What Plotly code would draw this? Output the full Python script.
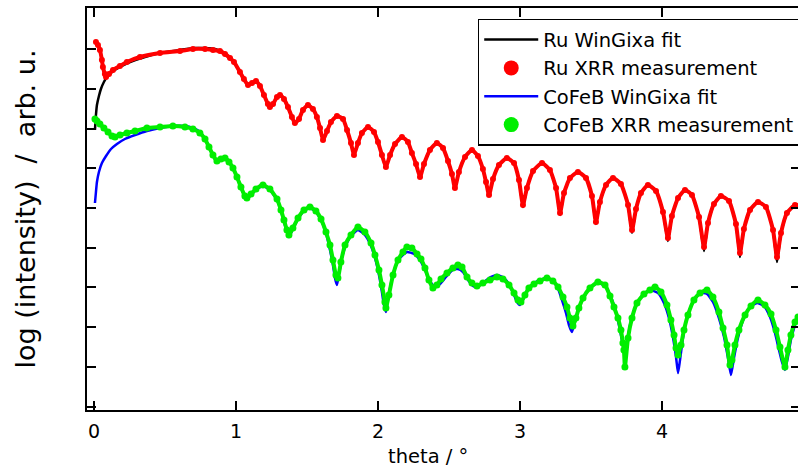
import plotly.graph_objects as go

# theta (deg) and log(intensity) in decades
ru_meas_theta = [0.014,0.028,0.042,0.056,0.063,0.077,0.085,0.106,0.134,0.183,0.232,0.324,0.465,0.606,0.697,0.782,0.838,0.887,0.923,0.958,0.986,1.028,1.056,1.085,1.113,1.141,1.169,1.197,1.225,1.239,1.261,1.289,1.310,1.338,1.366,1.394,1.415,1.444,1.472,1.507,1.542,1.570,1.592,1.613,1.641,1.669,1.711,1.754,1.782,1.810,1.831,1.859,1.887,1.930,1.972,2.000,2.028,2.056,2.085,2.120,2.169,2.211,2.239,2.268,2.296,2.324,2.366,2.415,2.458,2.493,2.521,2.542,2.570,2.613,2.662,2.704,2.739,2.761,2.782,2.810,2.852,2.908,2.958,2.993,3.021,3.049,3.092,3.155,3.211,3.254,3.282,3.310,3.352,3.408,3.465,3.507,3.535,3.563,3.606,3.655,3.711,3.761,3.789,3.817,3.852,3.901,3.958,4.007,4.042,4.070,4.113,4.162,4.211,4.261,4.296,4.324,4.366,4.415,4.472,4.521,4.549,4.577,4.620,4.676,4.732,4.782,4.810,4.838,4.880,4.937,4.958]
ru_meas_logI = [9.181,9.106,8.980,8.728,8.552,8.375,8.300,8.375,8.476,8.577,8.678,8.804,8.904,8.955,9.005,9.005,8.980,8.955,8.879,8.778,8.678,8.426,8.249,8.098,8.149,8.199,8.073,7.846,7.620,7.544,7.620,7.796,7.846,7.746,7.544,7.292,7.141,7.242,7.469,7.594,7.494,7.292,7.015,6.713,6.940,7.166,7.317,7.242,6.965,6.637,6.335,6.637,6.889,7.040,6.914,6.662,6.335,6.033,6.335,6.612,6.788,6.662,6.385,6.108,5.781,6.108,6.461,6.637,6.511,6.184,5.856,5.504,5.907,6.285,6.461,6.310,5.982,5.655,5.327,5.730,6.083,6.259,6.133,5.705,5.076,5.504,5.932,6.133,5.957,5.504,4.874,5.378,5.755,5.907,5.755,5.302,4.647,5.151,5.579,5.755,5.604,5.076,4.446,4.975,5.378,5.579,5.428,4.899,4.244,4.798,5.252,5.453,5.327,4.773,4.018,4.622,5.101,5.302,5.176,4.597,3.866,4.471,4.950,5.151,5.025,4.446,3.766,4.370,4.874,5.076,5.050]

ru_fit_theta = [0.007,0.014,0.021,0.035,0.049,0.070,0.092,0.127,0.183,0.254,0.359,0.465,0.606,0.711,0.782,0.852,0.887,0.923,0.958,0.986,1.028,1.056,1.085,1.113,1.141,1.169,1.197,1.225,1.239,1.261,1.289,1.310,1.338,1.366,1.394,1.415,1.444,1.472,1.507,1.542,1.570,1.592,1.613,1.641,1.669,1.711,1.754,1.782,1.810,1.831,1.859,1.887,1.930,1.972,2.000,2.028,2.056,2.085,2.120,2.169,2.211,2.239,2.268,2.296,2.324,2.366,2.415,2.458,2.493,2.521,2.542,2.570,2.613,2.662,2.704,2.739,2.761,2.782,2.810,2.852,2.908,2.958,2.993,3.021,3.049,3.092,3.155,3.211,3.254,3.282,3.310,3.352,3.408,3.465,3.507,3.535,3.563,3.606,3.655,3.711,3.761,3.789,3.817,3.852,3.901,3.958,4.007,4.042,4.070,4.113,4.162,4.211,4.261,4.296,4.324,4.366,4.415,4.472,4.521,4.549,4.577,4.620,4.676,4.732,4.782,4.810,4.838,4.880,4.937,4.958]
ru_fit_logI = [6.965,7.343,7.594,7.821,7.997,8.174,8.300,8.426,8.552,8.678,8.804,8.904,8.980,9.030,9.030,9.005,8.955,8.879,8.778,8.678,8.426,8.249,8.098,8.149,8.199,8.073,7.846,7.620,7.544,7.620,7.796,7.846,7.746,7.544,7.292,7.141,7.242,7.469,7.594,7.494,7.292,7.015,6.713,6.940,7.166,7.317,7.242,6.965,6.637,6.335,6.637,6.889,7.040,6.914,6.662,6.335,6.033,6.335,6.612,6.788,6.662,6.385,6.108,5.781,6.108,6.461,6.637,6.511,6.184,5.856,5.504,5.907,6.285,6.461,6.310,5.982,5.655,5.327,5.730,6.083,6.259,6.133,5.705,5.025,5.504,5.932,6.133,5.957,5.504,4.824,5.378,5.755,5.907,5.755,5.302,4.597,5.151,5.579,5.755,5.604,5.076,4.370,4.975,5.378,5.579,5.428,4.899,4.169,4.798,5.252,5.453,5.327,4.773,3.917,4.622,5.101,5.302,5.176,4.597,3.766,4.471,4.950,5.151,5.025,4.446,3.640,4.370,4.874,5.076,5.050]

cofeb_meas_theta = [0.007,0.021,0.042,0.070,0.099,0.127,0.148,0.183,0.232,0.289,0.373,0.465,0.556,0.641,0.697,0.746,0.782,0.810,0.838,0.866,0.894,0.923,0.951,0.979,1.007,1.035,1.063,1.077,1.106,1.141,1.190,1.239,1.289,1.317,1.338,1.359,1.373,1.401,1.437,1.479,1.521,1.563,1.599,1.634,1.662,1.683,1.704,1.718,1.739,1.768,1.810,1.859,1.908,1.951,1.979,2.007,2.028,2.049,2.056,2.077,2.106,2.141,2.176,2.204,2.239,2.275,2.303,2.331,2.359,2.387,2.415,2.444,2.486,2.528,2.563,2.592,2.627,2.662,2.697,2.739,2.789,2.838,2.880,2.923,2.958,2.986,3.007,3.035,3.063,3.099,3.141,3.190,3.232,3.268,3.303,3.331,3.352,3.373,3.394,3.415,3.444,3.493,3.549,3.599,3.634,3.662,3.690,3.711,3.725,3.732,3.739,3.761,3.789,3.824,3.873,3.915,3.951,3.993,4.035,4.063,4.085,4.099,4.113,4.134,4.155,4.183,4.225,4.268,4.317,4.359,4.401,4.430,4.458,4.479,4.493,4.514,4.542,4.585,4.627,4.676,4.725,4.768,4.803,4.831,4.866,4.887,4.908,4.937,4.958]
cofeb_meas_logI = [7.242,7.192,7.116,7.015,6.914,6.814,6.788,6.839,6.889,6.940,7.015,7.040,7.065,7.040,6.990,6.889,6.738,6.537,6.335,6.184,6.234,6.259,6.159,6.007,5.781,5.529,5.302,5.252,5.353,5.479,5.579,5.479,5.227,4.950,4.698,4.446,4.320,4.496,4.748,4.950,5.025,4.924,4.723,4.395,4.068,3.690,3.312,3.237,3.640,4.068,4.320,4.521,4.395,4.118,3.816,3.438,3.060,2.632,2.481,2.809,3.312,3.690,3.892,4.018,3.992,3.841,3.715,3.489,3.186,2.985,3.060,3.212,3.363,3.489,3.564,3.514,3.262,3.111,3.035,3.111,3.186,3.262,3.212,3.060,2.859,2.683,2.632,2.809,2.985,3.086,3.161,3.237,3.161,3.010,2.758,2.506,2.229,2.028,2.229,2.481,2.733,2.985,3.136,3.060,2.783,2.506,2.229,1.927,1.599,1.423,0.995,1.725,2.229,2.607,2.834,2.935,3.010,2.884,2.557,2.179,1.801,1.474,1.297,1.549,1.927,2.305,2.683,2.859,2.935,2.758,2.380,1.977,1.549,1.045,1.171,1.549,1.927,2.305,2.531,2.683,2.557,2.330,1.927,1.499,0.995,1.423,1.801,2.128,2.254]

cofeb_fit_theta = [0.007,0.014,0.021,0.035,0.056,0.085,0.120,0.162,0.218,0.289,0.373,0.465,0.556,0.641,0.697,0.746,0.782,0.810,0.838,0.866,0.894,0.923,0.951,0.979,1.007,1.035,1.063,1.077,1.106,1.141,1.190,1.239,1.289,1.317,1.338,1.359,1.373,1.401,1.437,1.479,1.521,1.563,1.599,1.634,1.662,1.683,1.697,1.711,1.725,1.746,1.775,1.810,1.859,1.908,1.951,1.979,2.007,2.028,2.042,2.056,2.070,2.092,2.120,2.155,2.204,2.254,2.296,2.331,2.366,2.401,2.437,2.479,2.528,2.563,2.599,2.634,2.669,2.697,2.732,2.782,2.838,2.887,2.930,2.958,2.979,3.000,3.021,3.049,3.092,3.141,3.190,3.232,3.268,3.296,3.324,3.345,3.366,3.387,3.415,3.458,3.500,3.549,3.599,3.641,3.676,3.704,3.725,3.739,3.754,3.775,3.810,3.859,3.915,3.972,4.014,4.049,4.077,4.099,4.113,4.127,4.148,4.176,4.218,4.268,4.317,4.359,4.401,4.437,4.465,4.486,4.507,4.535,4.577,4.620,4.669,4.718,4.761,4.796,4.824,4.845,4.866,4.887,4.908,4.937,4.958]
cofeb_fit_logI = [5.126,5.403,5.655,5.907,6.133,6.310,6.486,6.612,6.738,6.839,6.940,7.015,7.065,7.065,7.015,6.914,6.738,6.537,6.310,6.159,6.209,6.259,6.184,6.007,5.781,5.529,5.277,5.227,5.327,5.453,5.554,5.453,5.202,4.924,4.647,4.395,4.270,4.471,4.723,4.924,5.000,4.899,4.698,4.370,3.942,3.564,3.237,3.060,3.312,3.741,4.068,4.295,4.446,4.320,4.043,3.741,3.312,2.884,2.557,2.380,2.683,3.111,3.489,3.741,3.892,3.841,3.690,3.438,3.161,3.010,3.086,3.262,3.438,3.463,3.388,3.186,3.035,3.010,3.086,3.237,3.312,3.237,3.035,2.809,2.632,2.557,2.683,2.909,3.086,3.186,3.237,3.161,2.960,2.683,2.355,2.053,1.877,2.128,2.481,2.809,3.010,3.111,3.035,2.758,2.380,1.927,1.549,1.297,1.599,2.053,2.481,2.783,2.935,2.859,2.607,2.229,1.751,1.247,0.844,1.171,1.725,2.229,2.632,2.859,2.834,2.632,2.229,1.751,1.222,0.793,1.222,1.725,2.229,2.506,2.607,2.531,2.254,1.851,1.423,1.121,0.919,1.247,1.675,2.053,2.280]

x_tick_vals = [0, 1, 2, 3, 4]
x_tick_text = ["0", "1", "2", "3", "4"]
y_tick_vals = [0, 1, 2, 3, 4, 5, 6, 7, 8, 9]

legend_names = ["Ru WinGixa fit", "Ru XRR measurement", "CoFeB WinGixa fit", "CoFeB XRR measurement"]
x_title = "theta / °"
y_title = "log (intensity)\u00a0 /\u00a0 arb. u."

RED = "#ff0000"
GREEN = "#00ee00"
BLUE = "#0000ff"
BLACK = "#000000"
FONT = "DejaVu Sans"

fig = go.Figure()

# fits (under the measurements)
fig.add_trace(go.Scatter(x=ru_fit_theta, y=ru_fit_logI, mode="lines",
                         line=dict(color=BLACK, width=2.5, shape="spline", smoothing=0.5),
                         showlegend=False, hoverinfo="skip"))
fig.add_trace(go.Scatter(x=cofeb_fit_theta, y=cofeb_fit_logI, mode="lines",
                         line=dict(color=BLUE, width=2.5, shape="spline", smoothing=0.5),
                         showlegend=False, hoverinfo="skip"))
# measurements
fig.add_trace(go.Scatter(x=ru_meas_theta, y=ru_meas_logI, mode="lines+markers",
                         line=dict(color=RED, width=4, shape="spline", smoothing=0.5),
                         marker=dict(color=RED, size=6),
                         showlegend=False, hoverinfo="skip"))
fig.add_trace(go.Scatter(x=cofeb_meas_theta, y=cofeb_meas_logI, mode="lines+markers",
                         line=dict(color=GREEN, width=4, shape="spline", smoothing=0.5),
                         marker=dict(color=GREEN, size=7),
                         showlegend=False, hoverinfo="skip"))

# legend entries
fig.add_trace(go.Scatter(x=[None], y=[None], mode="lines", name=legend_names[0],
                         line=dict(color=BLACK, width=2.5)))
fig.add_trace(go.Scatter(x=[None], y=[None], mode="markers", name=legend_names[1],
                         marker=dict(color=RED, size=15)))
fig.add_trace(go.Scatter(x=[None], y=[None], mode="lines", name=legend_names[2],
                         line=dict(color=BLUE, width=2.5)))
fig.add_trace(go.Scatter(x=[None], y=[None], mode="markers", name=legend_names[3],
                         marker=dict(color=GREEN, size=15)))

fig.add_annotation(text=x_title, xref="paper", yref="paper", x=0.478, y=-0.1169,
                   xanchor="center", yanchor="middle", showarrow=False,
                   font=dict(family=FONT, size=19.5, color="black"))

fig.update_layout(
    width=801, height=470,
    margin=dict(l=87, r=1, t=8, b=60, autoexpand=False),
    paper_bgcolor="white", plot_bgcolor="white",
    font=dict(family=FONT, color="black", size=18),
    showlegend=True,
    legend=dict(x=0.548, y=0.973, xanchor="left", yanchor="top",
                bgcolor="white", bordercolor="black", borderwidth=1.5,
                font=dict(family=FONT, size=19.5), itemsizing="trace",
                itemwidth=54, tracegroupgap=0),
    xaxis=dict(range=[-0.049, 4.972], tickvals=x_tick_vals, ticktext=x_tick_text,
               ticks="inside", ticklen=9, tickwidth=2, tickcolor="black",
               showline=True, linecolor="black", linewidth=2, mirror="ticks",
               showgrid=False, zeroline=False, ticklabelstandoff=3,
               tickfont=dict(family=FONT, size=19)),
    yaxis=dict(range=[-0.088, 10.038], tickvals=y_tick_vals, showticklabels=False,
               ticks="inside", ticklen=9, tickwidth=2, tickcolor="black",
               showline=True, linecolor="black", linewidth=2, mirror="ticks",
               showgrid=False, zeroline=False,
               title=dict(text=y_title, font=dict(family=FONT, size=27), standoff=42)),
)

fig.write_html("out.html", config={"displayModeBar": False},
               post_script="document.body.style.margin='0';document.body.style.overflow='hidden';")
